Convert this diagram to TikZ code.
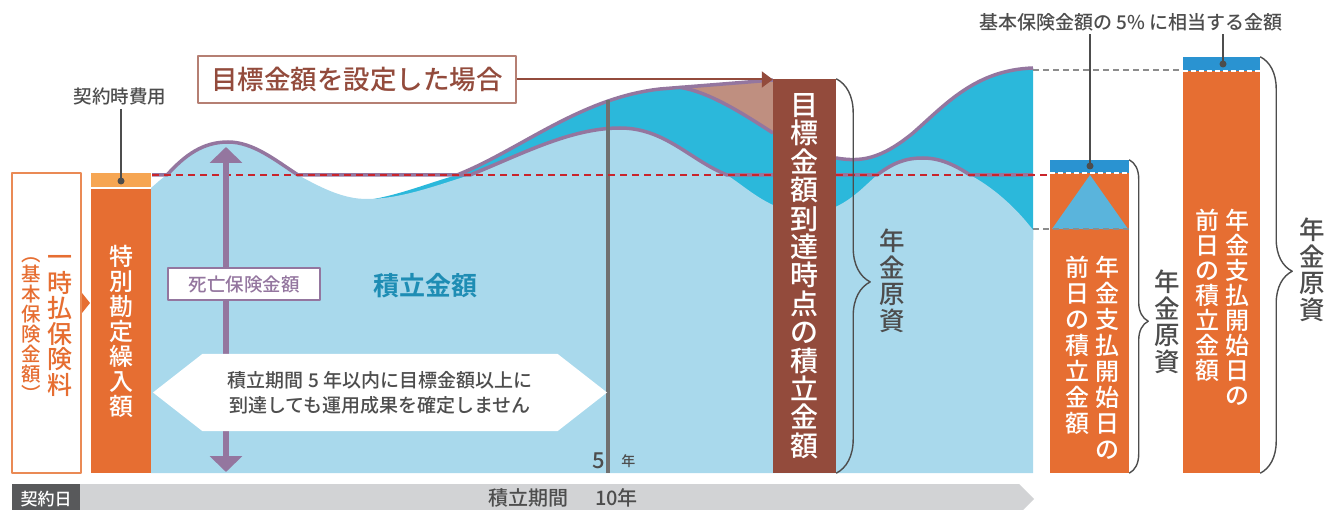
\documentclass[tikz,border=0pt]{standalone}
\usepackage{fontspec}
\setmainfont{Noto Sans CJK JP}[UprightFont=* Medium,BoldFont=* Bold]
\usetikzlibrary{arrows.meta,shapes.arrows,decorations.pathreplacing,positioning}
\definecolor{sky}{HTML}{A9D9EC}
\definecolor{deep}{HTML}{2BB8DB}
\definecolor{plum}{HTML}{94769F}
\definecolor{crimson}{HTML}{C9252C}
\definecolor{rust}{HTML}{934B3C}
\definecolor{goaltan}{HTML}{BF8F80}
\definecolor{titleedge}{HTML}{B57F73}
\definecolor{carrot}{HTML}{E66E32}
\definecolor{lumpedge}{HTML}{EA8A55}
\definecolor{apricot}{HTML}{F6A653}
\definecolor{capblue}{HTML}{2A93D1}
\definecolor{triblue}{HTML}{5AB4DC}
\definecolor{ink}{HTML}{4D4D4D}
\definecolor{yeargray}{HTML}{707070}
\definecolor{guidegray}{HTML}{8C8C8C}
\definecolor{tealtext}{HTML}{1E8DB4}
\definecolor{bargray}{HTML}{D2D3D5}
\definecolor{startgray}{HTML}{58595B}

\begin{document}
\begin{tikzpicture}[x=1pt,y=-1pt,line join=round,
	col/.style={fill=#1,inner sep=0pt,align=center,text=white},
	vtext/.style={inner sep=0pt,align=center,text=ink},
	curve/.style={draw=plum,line width=3.5pt},
	target/.style={draw=crimson,line width=2.5pt,dash pattern=on 7pt off 5pt},
	guide/.style={draw=guidegray,line width=2pt,dash pattern=on 6pt off 4pt},
	seam/.style={draw=white,line width=1.8pt,dash pattern=on 5pt off 3pt},
	curly/.style={draw=ink,line width=1.4pt,decorate,decoration={brace,amplitude=#1,aspect=0.515}},
	leader/.style={draw=ink,line width=1.2pt},
	pointer/.style={draw=rust,line width=2pt,-{Triangle[length=11pt,width=16pt]}},
	death/.style={draw=plum,line width=6pt,{Triangle[length=16pt,width=32pt]}-{Triangle[length=16pt,width=32pt]}}]

\useasboundingbox (0,0) rectangle (1325,510);

% accumulated value
\fill[deep] (360,201) .. controls (395,197) and (425,184) .. (457,175)
	.. controls (520,150) and (580,98) .. (660,89) -- (680,87.4)
	.. controls (710,92) and (745,115) .. (773,133) -- (773,300) -- (360,300) -- cycle;
\fill[deep] (836,158) .. controls (860,162) and (880,160) .. (913,133)
	.. controls (945,105) and (975,70) .. (1033,68) -- (1033,240) -- (836,240) -- cycle;
\fill[sky] (151,473) -- (151,188) .. controls (158,182) and (162,178) .. (167,175)
	.. controls (185,155) and (203,142) .. (228,142) .. controls (253,142) and (275,160) .. (298,175)
	.. controls (325,190) and (345,199) .. (367,199) .. controls (400,199) and (435,186) .. (470,175)
	.. controls (520,155) and (570,128) .. (620,128) .. controls (665,128) and (690,160) .. (727,175)
	.. controls (750,190) and (770,211) .. (805,213) .. controls (840,214) and (860,190) .. (877,175)
	.. controls (893,163) and (905,158) .. (923,158) .. controls (940,158) and (955,165) .. (970,175)
	.. controls (985,183) and (1010,200) .. (1033,230) -- (1033,473) -- cycle;
\fill[goaltan] (680,87.4) -- (773,80) -- (773,133) .. controls (745,115) and (710,92) .. (680,87.4) -- cycle;

% death benefit lines
\draw[curve] (152,175) -- (167,175) .. controls (185,155) and (203,142) .. (228,142)
	.. controls (253,142) and (275,160) .. (298,175) -- (470,175)
	.. controls (520,155) and (570,128) .. (620,128) .. controls (665,128) and (690,160) .. (727,175) -- (773,175);
\draw[curve] (457,175) .. controls (520,150) and (580,98) .. (660,89) -- (773,80);
\draw[curve] (680,87.4) .. controls (710,92) and (745,115) .. (773,133);
\draw[curve] (836,158) .. controls (860,162) and (880,160) .. (913,133)
	.. controls (945,105) and (975,70) .. (1033,68);
\draw[curve] (836,175) -- (877,175) .. controls (893,163) and (905,158) .. (923,158)
	.. controls (940,158) and (955,165) .. (970,175) -- (1033,175);

\draw[yeargray,line width=4pt] (608,100) -- (608,473);
\draw[target] (152,175) -- (1050,175);

\coordinate (peak) at (226,147);
\coordinate (floor) at (226,472);
\draw[death] (peak) -- (floor);
\node[draw=plum,line width=2.5pt,fill=white,text=plum,minimum width=152pt,minimum height=32pt,
	font=\fontsize{18.5}{20}\selectfont] (benefit) at (244,284) {死亡保険金額};
\node[text=tealtext,font=\fontsize{26}{30}\selectfont\bfseries] (total) at (425,286) {積立金額};
\node[double arrow,double arrow head extend=0pt,double arrow tip angle=76,fill=white,inner sep=0pt,
	minimum height=454pt,minimum width=77pt,text=ink,align=center,
	font=\fontsize{19}{25}\selectfont] (note) at (380,392.5)
	{積立期間 5 年以内に目標金額以上に\\到達しても運用成果を確定しません};
\node[text=ink,font=\fontsize{22}{22}\selectfont] (five) at (599,461) {5};
\node[text=ink,font=\fontsize{14}{14}\selectfont,right=9pt of five] (nen) {年};

% premium and columns
\node[draw=lumpedge,line width=1.5pt,fill=white,minimum width=69pt,minimum height=300pt] (lump) at (46.5,323) {};
\node[vtext,text=carrot,font=\fontsize{25}{25.5}\selectfont] (premium) at (60,326) {一\\時\\払\\保\\険\\料};
\node[vtext,text=carrot,font=\fontsize{19.5}{20}\selectfont] (basic) at (31,330) {︵\\基\\本\\保\\険\\金\\額\\︶};
\fill[carrot] (82,293) -- (90,303) -- (82,313) -- cycle;

\node[fill=apricot,inner sep=0pt,minimum width=60pt,minimum height=14pt] (cost) at (121,180) {};
\node[col=carrot,minimum width=60pt,minimum height=284pt,font=\fontsize{24}{25}\selectfont] (fund) at (121,331)
	{特\\別\\勘\\定\\繰\\入\\額};
\node[col=rust,minimum width=63pt,minimum height=394pt,font=\fontsize{28}{28.4}\selectfont] (goal) at (804.5,276)
	{目\\標\\金\\額\\到\\達\\時\\点\\の\\積\\立\\金\\額};

\node[draw=titleedge,line width=1.5pt,fill=white,text=rust,minimum width=318pt,minimum height=47pt,
	font=\fontsize{26.5}{30}\selectfont] (title) at (357,79.5) {目標金額を設定した場合};
\draw[pointer] (title.east) -- (title.east -| goal.west);

\node[col=carrot,minimum width=79pt,minimum height=313pt] (annA) at (1089.5,316.5) {};
\fill[capblue] (annA.north west) rectangle ++(79,13);
\fill[triblue] (1090,175) -- (1128,229) -- (1052,229) -- cycle;
\draw[seam] (1050,173) -- (1129,173);
\node[col=carrot,minimum width=77pt,minimum height=416pt] (annB) at (1221.5,265) {};
\fill[capblue] (annB.north west) rectangle ++(77,14);
\draw[seam] (1183,71) -- (1260,71);

\node[vtext,text=white,anchor=north,font=\fontsize{24}{26}\selectfont] (dayA) at (1107,256) {年\\金\\支\\払\\開\\始\\日\\の};
\node[vtext,text=white,anchor=north,font=\fontsize{24}{26}\selectfont] (sumA) at (1077,256) {前\\日\\の\\積\\立\\金\\額};
\node[vtext,text=white,anchor=north,font=\fontsize{24}{25}\selectfont] (dayB) at (1237,209) {年\\金\\支\\払\\開\\始\\日\\の};
\node[vtext,text=white,anchor=north,font=\fontsize{24}{25}\selectfont] (sumB) at (1207,209) {前\\日\\の\\積\\立\\金\\額};

\draw[guide] (1033,70) -- (annB.west |- 0,70);
\draw[guide] (1033,229) -- (annA.east |- 0,229);

% pension funds
\draw[curly=34pt] (goal.north east) -- (goal.south east);
\draw[curly=19pt] (annA.north east) -- (annA.south east);
\draw[curly=32pt] (annB.north east) -- (annB.south east);
\node[vtext,font=\fontsize{25.5}{26.5}\selectfont] (fundsGoal) at (892,281) {年\\金\\原\\資};
\node[vtext,font=\fontsize{25.5}{26.5}\selectfont] (fundsA) at (1167,322) {年\\金\\原\\資};
\node[vtext,font=\fontsize{25.5}{26.5}\selectfont] (fundsB) at (1312,270) {年\\金\\原\\資};

% labels
\node[text=ink,inner sep=3pt,font=\fontsize{18.5}{20}\selectfont] (fee) at (120,97) {契約時費用};
\coordinate (feeDot) at (121,181);
\draw[leader] (fee.south -| feeDot) -- (feeDot);
\fill[ink] (feeDot) circle (3.5pt);
\node[text=ink,inner sep=3pt,font=\fontsize{19}{21}\selectfont] (pct) at (1131,22) {基本保険金額の 5\% に相当する金額};
\coordinate (capA) at (1090,166);
\coordinate (capB) at (1223,64);
\draw[leader] (pct.south -| capA) -- (capA);
\draw[leader] (pct.south -| capB) -- (capB);
\fill[ink] (capA) circle (3.5pt);
\fill[ink] (capB) circle (3.5pt);

% period bar
\fill[bargray] (80,484) -- (1019,484) -- (1034,499) -- (1019,514) -- (80,514) -- cycle;
\node[fill=startgray,text=white,inner sep=0pt,minimum width=68pt,minimum height=30pt,
	font=\fontsize{17}{18}\selectfont] (start) at (46,499) {契約日};
\node[text=ink,font=\fontsize{20}{22}\selectfont] (term) at (563,498) {積立期間\hspace{27pt}10年};
\end{tikzpicture}
\end{document}
